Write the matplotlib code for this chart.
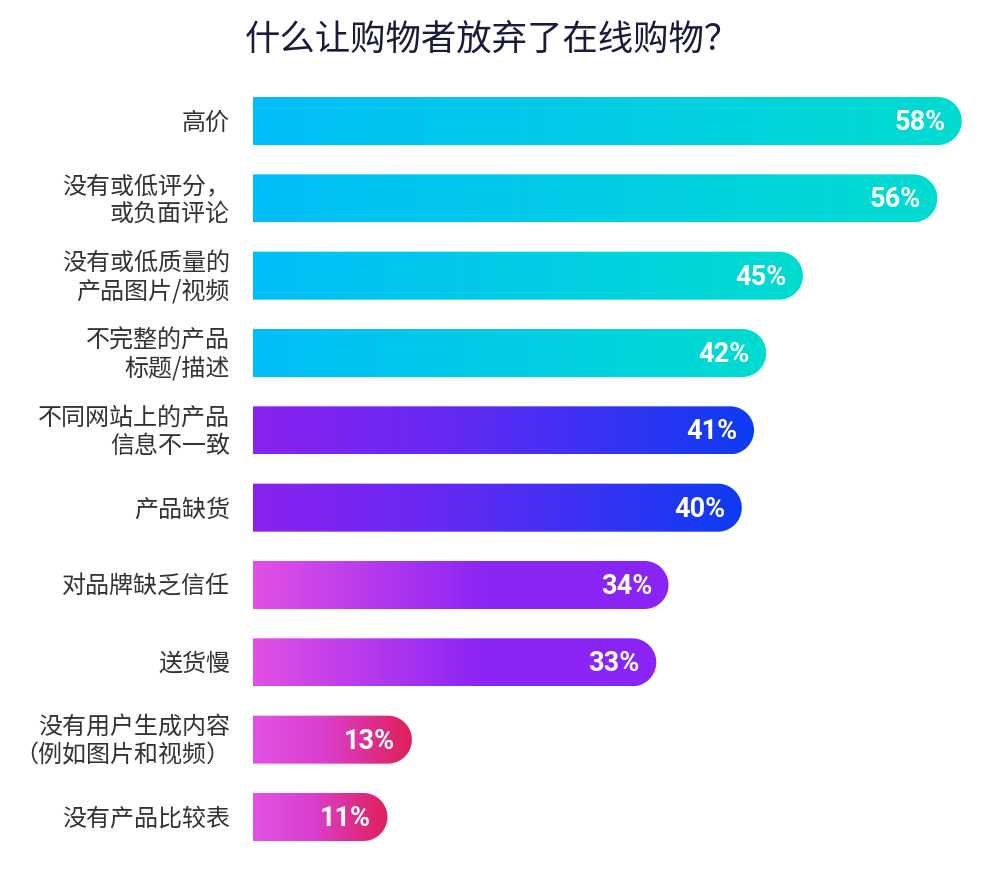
import numpy as np
import matplotlib
matplotlib.use('Agg')
import matplotlib.pyplot as plt
from matplotlib.colors import LinearSegmentedColormap
from matplotlib.patches import PathPatch
from matplotlib.path import Path

plt.rcParams['font.family'] = ['Noto Sans CJK SC', 'DejaVu Sans']

# data
labels = ['高价', '没有或低评分，\n或负面评论', '没有或低质量的\n产品图片/视频',
          '不完整的产品\n标题/描述', '不同网站上的产品\n信息不一致', '产品缺货',
          '对品牌缺乏信任', '送货慢', '没有用户生成内容\n（例如图片和视频）', '没有产品比较表']
values = [58, 56, 45, 42, 41, 40, 34, 33, 13, 11]
groups = [0, 0, 0, 0, 1, 1, 2, 2, 3, 3]

# gradient stops per colour group (left -> right)
gradients = [
    [(0.0, '#00bef9'), (1.0, '#00dcd0')],
    [(0.0, '#8a22f0'), (0.35, '#6a28f4'), (1.0, '#0c3cf2')],
    [(0.0, '#e250e4'), (0.55, '#8d25f5'), (1.0, '#8a24f5')],
    [(0.0, '#e352e6'), (0.45, '#d93fcc'), (1.0, '#e11f5a')],
]

W, H, DPI = 1000, 874, 100
PX_PER_UNIT = 12.22      # pixels per percentage point
ROW_PX = 77.3
BAR_PX = 48

fig = plt.figure(figsize=(W / DPI, H / DPI), dpi=DPI)
ax_left = 253 / W
ax_w = (W - 253) / W
top_px = 121 - ROW_PX / 2
bot_px = 817 + ROW_PX / 2
ax = fig.add_axes([ax_left, 1 - bot_px / H, ax_w, (bot_px - top_px) / H])
ax.set_xlim(0, (W - 253) / PX_PER_UNIT)
ax.set_ylim(len(values) - 0.5, -0.5)
ax.axis('off')

h = BAR_PX / ROW_PX
ry = h / 2
rx = (BAR_PX / 2) / PX_PER_UNIT

for i, (lab, v, g) in enumerate(zip(labels, values, groups)):
    y0, y1 = i - ry, i + ry
    # bar outline with rounded right end
    t = np.linspace(-np.pi / 2, np.pi / 2, 40)
    cx = v - rx
    arc = np.column_stack([cx + rx * np.cos(t), i + ry * np.sin(t)])
    verts = np.vstack([[0, y0], arc, [0, y1], [0, y0]])
    patch = PathPatch(Path(verts), facecolor='none', edgecolor='none')
    ax.add_patch(patch)

    cmap = LinearSegmentedColormap.from_list(f'g{g}', gradients[g])
    grad = np.linspace(0, 1, 256).reshape(1, -1)
    im = ax.imshow(grad, cmap=cmap, extent=[0, v, y1, y0], aspect='auto',
                   interpolation='bicubic', zorder=2)
    im.set_clip_path(patch)

    ax.text(v - 1.35, i + 0.02, f'{v}%', ha='right', va='center', color='white',
            fontsize=19.5, fontweight='bold', family=['Roboto', 'DejaVu Sans'], zorder=3)

    ax.text(-23 / PX_PER_UNIT, i + 0.02, lab, ha='right', va='center', color='#333333',
            fontsize=17.3, linespacing=1.1, clip_on=False)

fig.text(0.492, 1 - 40 / H, '什么让购物者放弃了在线购物？', ha='center', va='center',
         fontsize=25.5, color='#1a1a3c')

fig.savefig('out.png', dpi=DPI, facecolor='white')
